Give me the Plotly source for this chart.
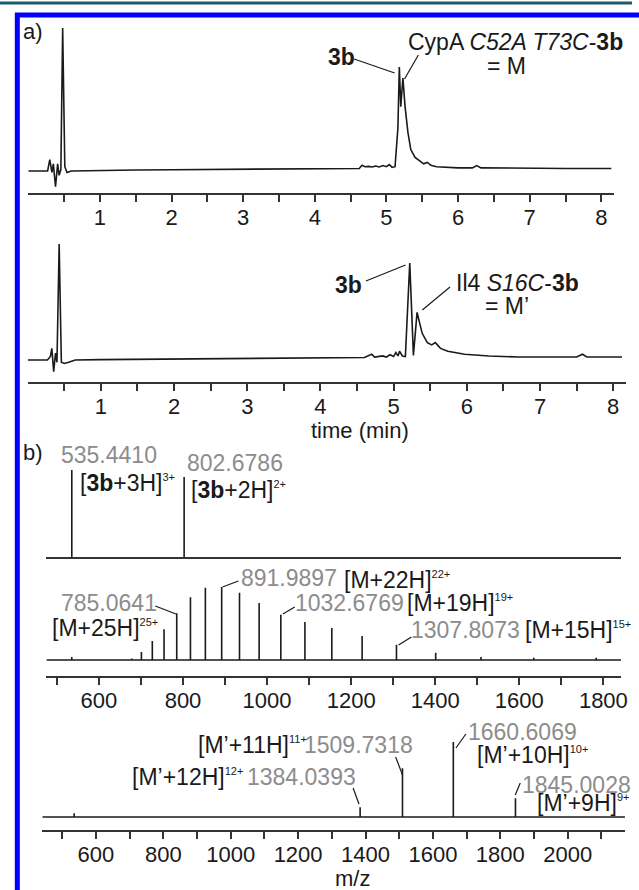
import plotly.graph_objects as go

W, H = 639, 890

# ---------------- data ----------------
# panel a: UV chromatograms (time in min, absorbance in arbitrary units)
chromA_time = [0.00, 0.27, 0.30, 0.33, 0.35, 0.38, 0.41, 0.43, 0.455, 0.48, 0.51, 0.54, 0.60,
               1.0, 1.5, 2.0, 2.5, 3.0, 3.5, 4.0, 4.5, 4.62, 4.66, 4.70, 4.75, 4.80, 4.85,
               4.90, 4.95, 5.00, 5.04, 5.08, 5.12, 5.16, 5.18, 5.20, 5.23, 5.26, 5.30, 5.34,
               5.40, 5.46, 5.52, 5.57, 5.62, 5.70, 5.85, 6.00, 6.20, 6.26, 6.32, 6.6, 7.0,
               7.5, 8.14]
chromA_abs = [0, 0, 8, -1, 5, -11, 5, -3, 1, 100, 3, -1, 0,
              0.5, 0.7, 0.9, 1.0, 1.2, 1.3, 1.4, 1.6, 1.8, 4, 3, 3.2, 2.8, 3.5,
              2.8, 3.8, 3, 4.5, 2.5, 3, 30, 72.7, 45, 65, 45, 27, 15,
              9.5, 7, 5, 6, 4, 3, 2.5, 2.2, 2.2, 3.8, 2.2, 2, 1.9,
              1.8, 1.8]

chromB_time = [0.00, 0.27, 0.31, 0.33, 0.355, 0.38, 0.40, 0.43, 0.46, 0.50, 0.56, 0.65,
               1.0, 2.0, 3.0, 4.0, 4.6, 4.70, 4.74, 4.85, 4.90, 4.95, 5.00, 5.03, 5.06,
               5.08, 5.12, 5.16, 5.22, 5.27, 5.32, 5.39, 5.46, 5.52, 5.57, 5.64, 5.74,
               5.97, 6.3, 6.7, 7.5, 7.58, 7.64, 8.12]
chromB_abs = [0, 0, 3, 10, -10, 6, -2, 100, -2, -3, -2, 0,
              0.3, 0.8, 1.3, 1.8, 2.2, 5, 2.5, 3.5, 2.5, 4.5, 3, 6.5, 3.5,
              7.5, 3.5, 3, 83.6, 4, 41, 23, 15, 13, 15, 10, 7.5,
              5, 3.4, 2.6, 2.6, 5, 2.6, 2.6]

chrom_tickvals = [0.5, 1, 1.5, 2, 2.5, 3, 3.5, 4, 4.5, 5, 5.5, 6, 6.5, 7, 7.5, 8]
chrom_ticktext = ["", "1", "", "2", "", "3", "", "4", "", "5", "", "6", "", "7", "", "8"]
chrom_range = [0, 8.17]

# panel b: mass spectra (m/z, relative intensity)
ms3b_mz = [535.4410, 802.6786]
ms3b_int = [100, 92]

msM_mz = [535.4, 678.0, 701.1, 727.0, 754.9, 785.0641, 817.7, 853.2, 891.9897, 934.4,
          981.1, 1032.6769, 1090.0, 1154.0, 1226.1, 1307.8073, 1401.1, 1508.8, 1634.5, 1783.0]
msM_int = [4, 2, 11, 26, 42, 64, 86, 99, 100, 92,
           78, 62, 52, 44, 33, 21, 10, 4, 3, 3]
msM_range = [475, 1842]
msM_tickvals = list(range(500, 1801, 100))
msM_ticktext = ["" if v % 200 else str(v) for v in msM_tickvals]

msMp_mz = [535.4, 1384.0393, 1509.7318, 1660.6069, 1845.0028]
msMp_int = [5, 13, 65, 100, 25]
msMp_range = [441, 2170]
msMp_tickvals = list(range(500, 2101, 100))
msMp_ticktext = ["" if v % 200 else str(v) for v in msMp_tickvals]

# ---------------- helpers ----------------
FONT = "Liberation Sans, Arial, sans-serif"
BLACK = "#1a1a1a"
GRAY = "#8c8c8c"
FS = 22      # tick labels
FA = 23      # annotation text


def xp(px):
    return px / W


def yp(py):
    return 1 - py / H


def sup(t):
    return "<sup><span style='font-size:11px'>%s</span></sup>" % t


def sticks(mz, inten):
    xs, ys = [], []
    for m, i in zip(mz, inten):
        xs += [m, m, None]
        ys += [0, i, None]
    return xs, ys


fig = go.Figure()

line_style = dict(color=BLACK, width=1.6)

fig.add_trace(go.Scatter(x=chromA_time, y=chromA_abs, mode="lines", line=line_style,
                         xaxis="x", yaxis="y", hoverinfo="skip"))
fig.add_trace(go.Scatter(x=chromB_time, y=chromB_abs, mode="lines", line=line_style,
                         xaxis="x2", yaxis="y2", hoverinfo="skip"))

sx, sy = sticks(ms3b_mz, ms3b_int)
fig.add_trace(go.Scatter(x=sx, y=sy, mode="lines", line=line_style,
                         xaxis="x3", yaxis="y3", hoverinfo="skip"))

sx, sy = sticks(msM_mz, msM_int)
fig.add_trace(go.Scatter(x=msM_range, y=[0, 0], mode="lines", line=line_style,
                         xaxis="x4", yaxis="y4", hoverinfo="skip"))
fig.add_trace(go.Scatter(x=sx, y=sy, mode="lines", line=line_style,
                         xaxis="x4", yaxis="y4", hoverinfo="skip"))

sx, sy = sticks(msMp_mz, msMp_int)
fig.add_trace(go.Scatter(x=msMp_range, y=[0, 0], mode="lines", line=line_style,
                         xaxis="x5", yaxis="y5", hoverinfo="skip"))
fig.add_trace(go.Scatter(x=sx, y=sy, mode="lines", line=line_style,
                         xaxis="x5", yaxis="y5", hoverinfo="skip"))


def xaxis(px0, px1, rng, tv=None, tt=None, anchor="y", labels=True):
    d = dict(domain=[xp(px0), xp(px1)], range=rng, anchor=anchor,
             showline=True, linecolor="#333333", linewidth=1.6,
             showgrid=False, zeroline=False, fixedrange=True,
             tickfont=dict(family=FONT, size=FS, color=BLACK))
    if labels:
        d.update(ticks="outside", ticklen=7, tickwidth=1.5, tickcolor="#333333",
                 tickmode="array", tickvals=tv, ticktext=tt, ticklabelstandoff=-3)
    else:
        d.update(ticks="", showticklabels=False)
    return d


def yaxis(py_top, py_bot, py_base, scale, anchor):
    lo = -(py_bot - py_base) / scale
    hi = (py_base - py_top) / scale
    return dict(domain=[yp(py_bot), yp(py_top)], range=[lo, hi], visible=False,
                anchor=anchor, fixedrange=True)


layout = dict(
    width=W, height=H, margin=dict(l=0, r=0, t=0, b=0),
    paper_bgcolor="white", plot_bgcolor="rgba(0,0,0,0)", showlegend=False,
    xaxis=xaxis(28.6, 620.3, chrom_range, chrom_tickvals, chrom_ticktext, "y"),
    yaxis=yaxis(25, 193, 171, 1.43, "x"),
    xaxis2=xaxis(28.0, 632.6, chrom_range, chrom_tickvals, chrom_ticktext, "y2"),
    yaxis2=yaxis(235, 382, 360, 1.16, "x2"),
    xaxis3=xaxis(46.9, 627.9, msM_range, anchor="y3", labels=False),
    yaxis3=yaxis(448, 557, 557, 0.87, "x3"),
    xaxis4=xaxis(46.9, 627.9, msM_range, msM_tickvals, msM_ticktext, "y4"),
    yaxis4=yaxis(572, 676, 660, 0.73, "x4"),
    xaxis5=xaxis(42.8, 631.9, msMp_range, msMp_tickvals, msMp_ticktext, "y5"),
    yaxis5=yaxis(720, 830, 817, 0.75, "x5"),
)
fig.update_layout(**layout)

# ---------------- annotations ----------------
ann = []


def txt(text, x, y, color=BLACK, size=FA, xanchor="left"):
    ann.append(dict(text=text, x=xp(x), y=yp(y), xref="paper", yref="paper",
                    xanchor=xanchor, yanchor="middle", showarrow=False,
                    font=dict(family=FONT, size=size, color=color)))


txt("a)", 21, 32, size=22)
txt("b)", 21, 452, size=22)
txt("<b>3b</b>", 345, 57, xanchor="center")
txt("CypA <i>C52A T73C</i>-<b>3b</b>", 521, 42, xanchor="center")
txt("= M", 512, 66, xanchor="center")
txt("<b>3b</b>", 352, 285, xanchor="center")
txt("Il4 <i>S16C</i>-<b>3b</b>", 523, 283, xanchor="center")
txt("= M’", 513, 306, xanchor="center")
txt("time (min)", 364, 430, size=22, xanchor="center")
txt("m/z", 356, 878, size=22, xanchor="center")

txt("535.4410", 60, 455, GRAY)
txt("[<b>3b</b>+3H]" + sup("3+"), 79, 483)
txt("802.6786", 187, 463, GRAY)
txt("[<b>3b</b>+2H]" + sup("2+"), 191, 490)

txt("785.0641", 60, 603, GRAY)
txt("[M+25H]" + sup("25+"), 51, 628)
txt("891.9897", 242, 578, GRAY)
txt("[M+22H]" + sup("22+"), 346, 580)
txt("1032.6769", 296, 603, GRAY)
txt("[M+19H]" + sup("19+"), 409, 603)
txt("1307.8073", 414, 630, GRAY)
txt("[M+15H]" + sup("15+"), 529, 630)

txt("[M’+11H]" + sup("11+"), 198, 745)
txt("1509.7318", 305, 745, GRAY)
txt("[M’+12H]" + sup("12+"), 131, 777)
txt("1384.0393", 248, 777, GRAY)
txt("1660.6069", 471, 732, GRAY)
txt("[M’+10H]" + sup("10+"), 480, 755)
txt("1845.0028", 526, 785, GRAY)
txt("[M’+9H]" + sup("9+"), 541, 803)

fig.update_layout(annotations=ann)

# ---------------- shapes ----------------
shapes = []


def seg(x0, y0, x1, y1, color=BLACK, width=1.2):
    shapes.append(dict(type="line", xref="paper", yref="paper",
                       x0=xp(x0), y0=yp(y0), x1=xp(x1), y1=yp(y1),
                       line=dict(color=color, width=width)))


# header rule and blue frame
seg(0, 3, W, 3, color="#1d5b73", width=3)
shapes.append(dict(type="rect", xref="paper", yref="paper",
                   x0=xp(17.5), x1=xp(680), y0=yp(15), y1=yp(920),
                   line=dict(color="#0000ff", width=5), fillcolor="rgba(0,0,0,0)"))

# leader lines
seg(358, 59, 399, 73)
seg(409, 79, 423, 55)
seg(370, 281, 410, 265)
seg(455, 287, 427, 310)
seg(157, 606, 178, 614)
seg(241, 581, 225, 587)
seg(298, 607, 286, 614)
seg(416, 637, 403, 645)
seg(400, 757, 407, 775)
seg(357, 788, 363, 804)
seg(471, 734, 461, 748)
seg(526, 783, 521, 795)

fig.update_layout(shapes=shapes)

fig.write_html(
    "out.html",
    config={"displayModeBar": False},
    post_script="document.body.style.margin='0';document.body.style.overflow='hidden';",
)
